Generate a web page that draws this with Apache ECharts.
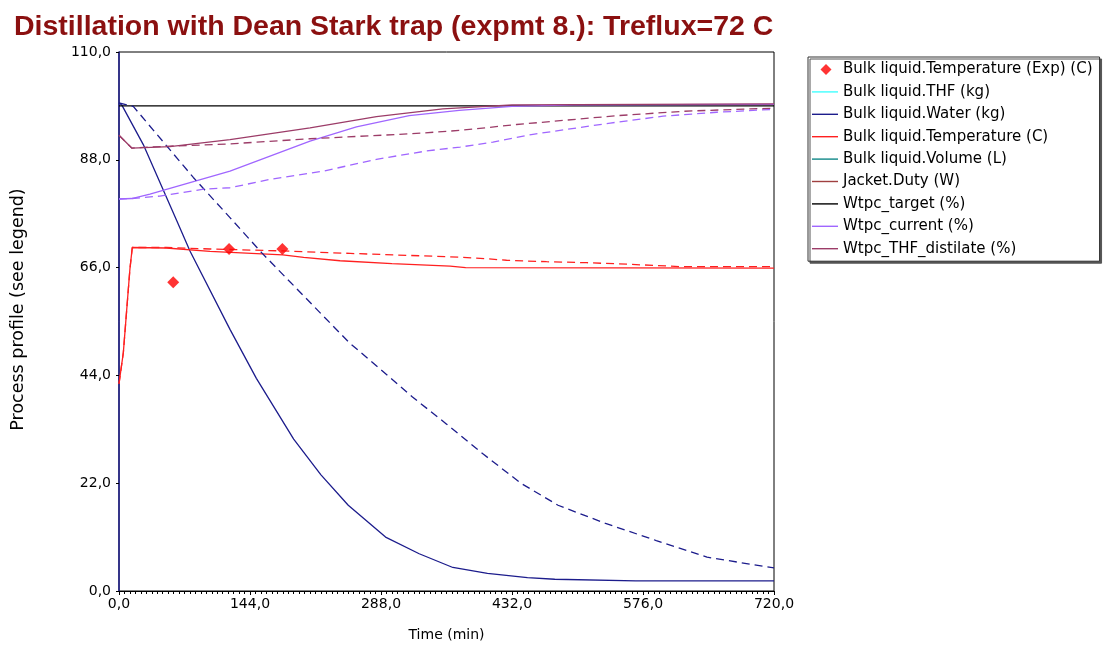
<!DOCTYPE html>
<html>
<head>
<meta charset="utf-8">
<title>Distillation with Dean Stark trap</title>
<script src="https://cdn.jsdelivr.net/npm/echarts@6/dist/echarts.min.js"></script>
<style>
  html, body { margin: 0; padding: 0; background: #ffffff; }
  #chart { width: 1103px; height: 647px; }
</style>
</head>
<body>
<div id="chart"></div>
<script>
// Axis ticks
const xTicks = { min: 0, max: 720, step: 144 };
const yTicks = { min: 0, max: 110, step: 22 };

// Measured bulk temperature (min, C)
const expTime = [59.6, 121, 179.6];
const expTemp = [63.0, 69.8, 69.8];

// Bulk liquid water (kg), run 1 (solid) and run 2 (dashed)
const waterTime = [0, 3, 26.7, 63.4, 78, 122, 151, 192, 222, 252, 293, 330, 367, 405, 449, 479, 568, 720];
const waterKg   = [99.6, 99.2, 91.1, 75.6, 69.4, 53.4, 43.4, 31.0, 23.7, 17.5, 11.0, 7.6, 4.8, 3.6, 2.75, 2.4, 2.06, 2.06];
const water2Time = [0, 15.7, 81.7, 122, 157, 253, 296.6, 322.6, 359.8, 400.7, 441.7, 482.6, 534.8, 590.6, 646.4, 720];
const water2Kg   = [99.6, 98.9, 84.4, 76.2, 69.0, 50.7, 43.8, 39.6, 34.1, 27.9, 22.0, 17.5, 13.8, 10.3, 6.9, 4.7];

// Bulk liquid temperature (C)
const tempTime = [0, 4.8, 12, 14.6, 52, 100, 180, 203, 243, 300, 364, 381, 720];
const tempC    = [42.3, 48.7, 65.7, 70.1, 70.0, 69.3, 68.6, 68.1, 67.4, 66.8, 66.3, 66.0, 65.9];
const temp2Time = [0, 4.8, 12, 14.6, 52, 100, 180, 254, 364, 397, 426, 470, 514, 558, 617, 720];
const temp2C    = [42.3, 48.7, 65.7, 70.1, 70.1, 69.8, 69.4, 68.9, 68.2, 67.9, 67.5, 67.2, 67.0, 66.7, 66.2, 66.2];

// Water content target (%)
const targetTime = [0, 720];
const targetPct  = [99.0, 99.0];

// Current water content (%)
const currentTime = [0, 14, 34, 122, 210, 261, 319, 374, 432, 500, 720];
const currentPct  = [80.0, 80.1, 81.0, 85.7, 91.8, 94.7, 97.0, 98.1, 98.9, 99.2, 99.3];
const current2Time = [0, 14, 45, 93, 122, 166, 225, 283, 338, 375, 411, 455, 503, 540, 598, 657, 720];
const current2Pct  = [80.0, 80.1, 80.6, 82.0, 82.3, 84.0, 85.7, 88.1, 89.8, 90.6, 91.6, 93.2, 94.5, 95.5, 96.9, 97.7, 98.3];

// THF distillate (%)
const distTime = [0, 14, 56, 122, 210, 283, 356, 432, 720];
const distPct  = [93.0, 90.4, 90.7, 92.1, 94.5, 96.8, 98.4, 99.2, 99.4];
const dist2Time = [0, 14, 56, 118, 210, 320, 375, 437, 492, 547, 620, 694, 720];
const dist2Pct  = [93.0, 90.4, 90.8, 91.2, 92.3, 93.3, 94.0, 95.2, 96.1, 97.0, 97.9, 98.4, 98.5];

const legendNames = [
  'Bulk liquid.Temperature (Exp) (C)',
  'Bulk liquid.THF (kg)',
  'Bulk liquid.Water (kg)',
  'Bulk liquid.Temperature (C)',
  'Bulk liquid.Volume (L)',
  'Jacket.Duty (W)',
  'Wtpc_target (%)',
  'Wtpc_current (%)',
  'Wtpc_THF_distilate (%)'
];

const colors = {
  exp: '#ff0000',
  thf: '#40ffff',
  water: '#1c1c8c',
  temp: '#ff2020',
  volume: '#108888',
  duty: '#a04040',
  target: '#000000',
  current: '#a066ff',
  dist: '#9c3c68'
};

// Legend glyphs: a short stroke for lines, a small diamond for measured points.
// The leading moves pin the glyph box to the full icon size.
const lineIcon = 'path://M0,0 M26,14 M0,6.3 L26,6.3 L26,7.7 L0,7.7 Z';
const diamondIcon = 'path://M0,0 M26,14 M14,1.5 L19.5,7 L14,12.5 L8.5,7 Z';

const pairs = (ts, vs) => ts.map((t, i) => [t, vs[i]]);
const fmt = v => v.toFixed(1).replace('.', ',');
const labelFont = 'DejaVu Sans, Verdana, sans-serif';

function lineSeries(name, ts, vs, color, dashed) {
  return {
    name: name,
    type: 'line',
    data: pairs(ts, vs),
    symbol: 'none',
    smooth: false,
    lineStyle: { color: color, width: 1.3, type: dashed ? [8, 5] : 'solid' },
    itemStyle: { color: color },
    z: 3
  };
}

function emptySeries(name, color) {
  return { name: name, type: 'line', data: [], symbol: 'none', lineStyle: { color: color, width: 1.3 }, itemStyle: { color: color } };
}

const chart = echarts.init(document.getElementById('chart'), null, { renderer: 'canvas' });

chart.setOption({
  animation: false,
  backgroundColor: '#ffffff',
  title: {
    text: 'Distillation with Dean Stark trap (expmt 8.): Treflux=72 C',
    left: 9,
    top: 8,
    textStyle: {
      fontFamily: 'Liberation Sans, Arial, sans-serif',
      fontSize: 28.5,
      fontWeight: 'bold',
      color: '#8b1010'
    }
  },
  legend: {
    orient: 'vertical',
    left: 808,
    top: 57,
    padding: [5, 7, 5, 4],
    itemGap: 7.4,
    itemWidth: 26,
    itemHeight: 14,
    backgroundColor: '#ffffff',
    borderColor: '#333333',
    borderWidth: 1,
    borderRadius: 0,
    shadowColor: '#555555',
    shadowBlur: 0,
    shadowOffsetX: 2,
    shadowOffsetY: 2,
    selectedMode: false,
    data: legendNames.map((n, i) => ({ name: n, icon: i === 0 ? diamondIcon : lineIcon })),
    textStyle: {
      fontFamily: labelFont,
      fontSize: 15,
      color: '#000000'
    }
  },
  grid: {
    left: 119,
    right: 329,
    top: 52,
    bottom: 54,
    show: true,
    borderColor: '#000000',
    borderWidth: 1,
    containLabel: false
  },
  xAxis: {
    type: 'value',
    min: xTicks.min,
    max: xTicks.max,
    interval: xTicks.step,
    name: 'Time (min)',
    nameLocation: 'middle',
    nameGap: 37,
    nameTextStyle: { fontFamily: labelFont, fontSize: 14, color: '#000' },
    axisLine: { show: true, lineStyle: { color: '#000', width: 1 } },
    axisTick: { show: true, length: 4, lineStyle: { color: '#000' } },
    minorTick: { show: true, splitNumber: 24, length: 3, lineStyle: { color: '#000' } },
    splitLine: { show: false },
    axisLabel: {
      margin: 6,
      fontFamily: labelFont,
      fontSize: 14,
      color: '#000',
      formatter: fmt
    }
  },
  yAxis: {
    type: 'value',
    min: yTicks.min,
    max: yTicks.max,
    interval: yTicks.step,
    name: 'Process profile (see legend)',
    nameLocation: 'middle',
    nameGap: 92,
    nameRotate: 90,
    nameTextStyle: { fontFamily: labelFont, fontSize: 17.5, color: '#000', padding: [0, 0, 0, 24] },
    axisLine: { show: true, lineStyle: { color: '#1c1c8c', width: 1.5 } },
    axisTick: { show: true, length: 3, lineStyle: { color: '#000' } },
    splitLine: { show: false },
    axisLabel: {
      margin: 8,
      fontFamily: labelFont,
      fontSize: 14,
      color: '#000',
      formatter: fmt
    }
  },
  series: [
    {
      name: legendNames[0],
      type: 'scatter',
      data: pairs(expTime, expTemp),
      symbol: 'diamond',
      symbolSize: 12,
      itemStyle: { color: colors.exp },
      z: 5
    },
    emptySeries(legendNames[1], colors.thf),
    lineSeries(legendNames[2], waterTime, waterKg, colors.water, false),
    lineSeries(legendNames[3], tempTime, tempC, colors.temp, false),
    emptySeries(legendNames[4], colors.volume),
    emptySeries(legendNames[5], colors.duty),
    lineSeries(legendNames[6], targetTime, targetPct, colors.target, false),
    lineSeries(legendNames[7], currentTime, currentPct, colors.current, false),
    lineSeries(legendNames[8], distTime, distPct, colors.dist, false),
    // second run, dashed, not listed in the legend
    lineSeries('Bulk liquid.Water (kg) run 2', water2Time, water2Kg, colors.water, true),
    lineSeries('Bulk liquid.Temperature (C) run 2', temp2Time, temp2C, colors.temp, true),
    lineSeries('Wtpc_current (%) run 2', current2Time, current2Pct, colors.current, true),
    lineSeries('Wtpc_THF_distilate (%) run 2', dist2Time, dist2Pct, colors.dist, true)
  ]
});
</script>
</body>
</html>
